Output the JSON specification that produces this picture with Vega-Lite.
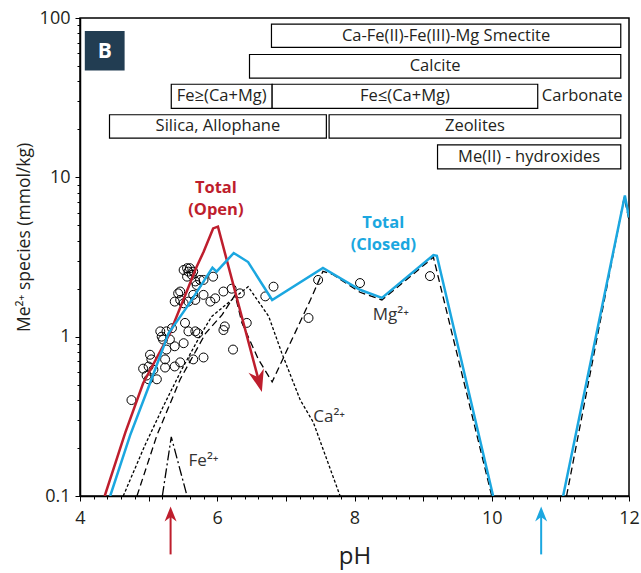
{
"$schema": "https://vega.github.io/schema/vega-lite/v6.json",
"width": 549, "height": 478,
"autosize": {"type": "none"},
"padding": {"left": 80, "top": 18, "right": 12, "bottom": 77},
"background": "white",
"config": {"view": {"stroke": "black", "strokeWidth": 1.5}, "font": "Open Sans", "text": {"font": "Open Sans"}},
"datasets": {
"boxes": [
{"t": "Ca-Fe(II)-Fe(III)-Mg Smectite", "pH": 6.79, "pH2": 11.88, "c": 65.4, "c2": 91.6},
{"t": "Calcite", "pH": 6.47, "pH2": 11.88, "c": 42.0, "c2": 59.0},
{"t": "Fe≥(Ca+Mg)", "pH": 5.33, "pH2": 6.80, "c": 27.1, "c2": 38.4},
{"t": "Fe≤(Ca+Mg)", "pH": 6.80, "pH2": 10.67, "c": 27.1, "c2": 38.4},
{"t": "Silica, Allophane", "pH": 4.43, "pH2": 7.59, "c": 17.6, "c2": 24.7},
{"t": "Zeolites", "pH": 7.63, "pH2": 11.88, "c": 17.6, "c2": 24.7},
{"t": "Me(II) - hydroxides", "pH": 9.21, "pH2": 11.88, "c": 11.3, "c2": 16.0}
],
"species": [
{"s": "Ca", "g": "Ca1", "pH": 4.63, "c": 0.1},
{"s": "Ca", "g": "Ca1", "pH": 4.95, "c": 0.21},
{"s": "Ca", "g": "Ca1", "pH": 5.24, "c": 0.385},
{"s": "Ca", "g": "Ca1", "pH": 5.48, "c": 0.62},
{"s": "Ca", "g": "Ca1", "pH": 5.77, "c": 1.05},
{"s": "Ca", "g": "Ca1", "pH": 5.92, "c": 1.34},
{"s": "Ca", "g": "Ca1", "pH": 6.21, "c": 1.70},
{"s": "Ca", "g": "Ca1", "pH": 6.45, "c": 2.06},
{"s": "Ca", "g": "Ca1", "pH": 6.75, "c": 1.34},
{"s": "Ca", "g": "Ca1", "pH": 6.94, "c": 0.79},
{"s": "Ca", "g": "Ca1", "pH": 7.21, "c": 0.40},
{"s": "Ca", "g": "Ca1", "pH": 7.40, "c": 0.29},
{"s": "Ca", "g": "Ca1", "pH": 7.79, "c": 0.1},
{"s": "Mg", "g": "Mg1", "pH": 4.83, "c": 0.1},
{"s": "Mg", "g": "Mg1", "pH": 5.12, "c": 0.24},
{"s": "Mg", "g": "Mg1", "pH": 5.46, "c": 0.54},
{"s": "Mg", "g": "Mg1", "pH": 5.83, "c": 1.05},
{"s": "Mg", "g": "Mg1", "pH": 6.07, "c": 1.37},
{"s": "Mg", "g": "Mg1", "pH": 6.26, "c": 1.83},
{"s": "Mg", "g": "Mg1", "pH": 6.36, "c": 1.22},
{"s": "Mg", "g": "Mg1", "pH": 6.60, "c": 0.72},
{"s": "Mg", "g": "Mg1", "pH": 6.80, "c": 0.52},
{"s": "Mg", "g": "Mg1", "pH": 7.02, "c": 0.83},
{"s": "Mg", "g": "Mg1", "pH": 7.36, "c": 1.71},
{"s": "Mg", "g": "Mg1", "pH": 7.54, "c": 2.57},
{"s": "Mg", "g": "Mg1", "pH": 7.69, "c": 2.45},
{"s": "Mg", "g": "Mg1", "pH": 8.08, "c": 1.90},
{"s": "Mg", "g": "Mg1", "pH": 8.40, "c": 1.70},
{"s": "Mg", "g": "Mg1", "pH": 9.15, "c": 3.15},
{"s": "Mg", "g": "Mg1", "pH": 10.0, "c": 0.1},
{"s": "Mg", "g": "Mg2", "pH": 11.09, "c": 0.1},
{"s": "Mg", "g": "Mg2", "pH": 11.93, "c": 7.5},
{"s": "Mg", "g": "Mg2", "pH": 12.0, "c": 5.4},
{"s": "Fe", "g": "Fe1", "pH": 5.20, "c": 0.1},
{"s": "Fe", "g": "Fe1", "pH": 5.33, "c": 0.235},
{"s": "Fe", "g": "Fe1", "pH": 5.56, "c": 0.1}
],
"totals": [
{"s": "Open", "g": "O1", "pH": 4.36, "c": 0.1},
{"s": "Open", "g": "O1", "pH": 4.66, "c": 0.25},
{"s": "Open", "g": "O1", "pH": 4.92, "c": 0.51},
{"s": "Open", "g": "O1", "pH": 5.31, "c": 1.05},
{"s": "Open", "g": "O1", "pH": 5.70, "c": 2.75},
{"s": "Open", "g": "O1", "pH": 5.80, "c": 3.4},
{"s": "Open", "g": "O1", "pH": 5.94, "c": 4.78},
{"s": "Open", "g": "O1", "pH": 6.01, "c": 4.9},
{"s": "Open", "g": "O1", "pH": 6.62, "c": 0.5},
{"s": "Closed", "g": "C1", "pH": 4.44, "c": 0.1},
{"s": "Closed", "g": "C1", "pH": 4.73, "c": 0.24},
{"s": "Closed", "g": "C1", "pH": 5.02, "c": 0.51},
{"s": "Closed", "g": "C1", "pH": 5.29, "c": 1.05},
{"s": "Closed", "g": "C1", "pH": 5.60, "c": 1.63},
{"s": "Closed", "g": "C1", "pH": 5.93, "c": 2.71},
{"s": "Closed", "g": "C1", "pH": 5.99, "c": 2.56},
{"s": "Closed", "g": "C1", "pH": 6.24, "c": 3.35},
{"s": "Closed", "g": "C1", "pH": 6.45, "c": 2.94},
{"s": "Closed", "g": "C1", "pH": 6.80, "c": 1.70},
{"s": "Closed", "g": "C1", "pH": 7.54, "c": 2.70},
{"s": "Closed", "g": "C1", "pH": 8.08, "c": 1.97},
{"s": "Closed", "g": "C1", "pH": 8.40, "c": 1.75},
{"s": "Closed", "g": "C1", "pH": 9.15, "c": 3.25},
{"s": "Closed", "g": "C1", "pH": 9.20, "c": 3.22},
{"s": "Closed", "g": "C1", "pH": 10.02, "c": 0.1},
{"s": "Closed", "g": "C2", "pH": 11.04, "c": 0.1},
{"s": "Closed", "g": "C2", "pH": 11.94, "c": 7.7},
{"s": "Closed", "g": "C2", "pH": 12.0, "c": 5.6}
],
"samples": [
{"pH": 4.75, "c": 0.40}, {"pH": 4.92, "c": 0.63}, {"pH": 5.0, "c": 0.65}, {"pH": 5.04, "c": 0.72},
{"pH": 5.02, "c": 0.77}, {"pH": 5.0, "c": 0.54}, {"pH": 4.97, "c": 0.57}, {"pH": 5.12, "c": 0.54},
{"pH": 5.07, "c": 0.62}, {"pH": 5.24, "c": 0.64}, {"pH": 5.24, "c": 0.72}, {"pH": 5.38, "c": 0.65},
{"pH": 5.46, "c": 0.69}, {"pH": 5.38, "c": 0.87}, {"pH": 5.26, "c": 0.83}, {"pH": 5.51, "c": 0.91},
{"pH": 5.65, "c": 0.72}, {"pH": 5.80, "c": 0.74}, {"pH": 5.19, "c": 1.0}, {"pH": 5.17, "c": 1.08},
{"pH": 5.26, "c": 1.08}, {"pH": 5.34, "c": 1.13}, {"pH": 5.21, "c": 0.96}, {"pH": 5.31, "c": 0.96},
{"pH": 5.53, "c": 1.22}, {"pH": 5.58, "c": 1.08}, {"pH": 5.72, "c": 1.05}, {"pH": 5.68, "c": 1.08},
{"pH": 5.38, "c": 1.66}, {"pH": 5.46, "c": 1.70}, {"pH": 5.43, "c": 1.87}, {"pH": 5.51, "c": 1.62},
{"pH": 5.58, "c": 1.66}, {"pH": 5.68, "c": 1.70}, {"pH": 5.65, "c": 1.83}, {"pH": 5.90, "c": 1.66},
{"pH": 5.97, "c": 1.74}, {"pH": 6.09, "c": 1.92}, {"pH": 6.21, "c": 2.0}, {"pH": 6.33, "c": 1.87},
{"pH": 6.09, "c": 1.10}, {"pH": 6.11, "c": 1.16}, {"pH": 6.23, "c": 0.83}, {"pH": 6.43, "c": 1.22},
{"pH": 5.56, "c": 2.38}, {"pH": 5.63, "c": 2.44}, {"pH": 5.68, "c": 2.22}, {"pH": 5.80, "c": 2.27},
{"pH": 5.94, "c": 2.38}, {"pH": 5.58, "c": 2.56}, {"pH": 5.56, "c": 2.69}, {"pH": 5.60, "c": 2.69},
{"pH": 5.51, "c": 2.62}, {"pH": 5.65, "c": 2.56}, {"pH": 5.75, "c": 2.27}, {"pH": 5.70, "c": 2.11},
{"pH": 5.80, "c": 1.83}, {"pH": 5.46, "c": 1.92}, {"pH": 6.70, "c": 1.79}, {"pH": 6.82, "c": 2.06},
{"pH": 7.47, "c": 2.27}, {"pH": 7.33, "c": 1.31}, {"pH": 8.08, "c": 2.17}, {"pH": 9.10, "c": 2.40}
]
},
"encoding": {
"x": {"field": "pH", "type": "quantitative",
"scale": {"domain": [4, 12], "nice": false, "zero": false},
"axis": {"title": "pH", "grid": false, "titleFontSize": 24, "titleFontWeight": "normal", "titleColor": "#231f20", "titlePadding": 17,
"values": [4,4.2,4.4,4.6,4.8,5,5.2,5.4,5.6,5.8,6,6.2,6.4,6.6,6.8,7,7.2,7.4,7.6,7.8,8,8.2,8.4,8.6,8.8,9,9.2,9.4,9.6,9.8,10,10.2,10.4,10.6,10.8,11,11.2,11.4,11.6,11.8,12],
"format": "~g",
"labelExpr": "datum.value % 2 == 0 ? datum.label : ''",
"labelFontSize": 18, "labelColor": "#231f20", "labelOverlap": false, "labelPadding": 8, "labelFlush": false,
"tickSize": {"condition": {"test": "datum.value % 1 == 0", "value": 5}, "value": 3},
"domainColor": "black", "domainWidth": 1.5, "tickColor": "black", "tickWidth": 1}},
"y": {"field": "c", "type": "quantitative",
"scale": {"type": "log", "domain": [0.1, 100], "nice": false},
"axis": {"title": "Me²⁺ species (mmol/kg)", "grid": false, "titleFontSize": 17.5, "titleFontWeight": "normal", "titleColor": "#231f20",
"titleX": -56, "titleY": 219, "titleAngle": 270, "titleAlign": "center", "titleBaseline": "middle",
"values": [0.1,0.2,0.3,0.4,0.5,0.6,0.7,0.8,0.9,1,2,3,4,5,6,7,8,9,10,20,30,40,50,60,70,80,90,100],
"format": "~g",
"labelExpr": "(datum.value == 0.1 || datum.value == 1 || datum.value == 10 || datum.value == 100) ? datum.label : ''",
"labelFontSize": 18, "labelColor": "#231f20", "labelOverlap": false, "labelPadding": 5, "labelFlush": false,
"tickSize": {"condition": {"test": "datum.value == 0.1 || datum.value == 1 || datum.value == 10 || datum.value == 100", "value": 5}, "value": 3},
"domainColor": "black", "domainWidth": 1.5, "tickColor": "black", "tickWidth": 1}}
},
"layer": [
{"data": {"name": "boxes"},
"mark": {"type": "rect", "fill": "white", "stroke": "black", "strokeWidth": 1.2},
"encoding": {"x2": {"field": "pH2"}, "y2": {"field": "c2"}}},
{"data": {"name": "boxes"},
"transform": [{"calculate": "(datum.pH + datum.pH2) / 2", "as": "pH"}, {"calculate": "sqrt(datum.c * datum.c2)", "as": "c"}],
"mark": {"type": "text", "fontSize": 16.5, "color": "#231f20", "align": "center", "baseline": "middle"},
"encoding": {"text": {"field": "t"}}},
{"data": {"values": [{"pH": 10.73, "c": 32.4, "t": "Carbonate"}]},
"mark": {"type": "text", "fontSize": 16.5, "color": "#231f20", "align": "left", "baseline": "middle"},
"encoding": {"text": {"field": "t"}}},
{"data": {"values": [{"pH": 4.07, "pH2": 4.65, "c": 46.8, "c2": 82.9}]},
"mark": {"type": "rect", "fill": "#223d52"},
"encoding": {"x2": {"field": "pH2"}, "y2": {"field": "c2"}}},
{"data": {"values": [{"pH": 4.36, "c": 61.5, "t": "B"}]},
"mark": {"type": "text", "fontSize": 21, "fontWeight": "bold", "color": "white", "align": "center", "baseline": "middle"},
"encoding": {"text": {"field": "t"}}},
{"data": {"name": "samples"},
"mark": {"type": "point", "shape": "circle", "filled": false, "stroke": "black", "strokeWidth": 1, "size": 80, "opacity": 1}},
{"data": {"name": "species"},
"mark": {"type": "line", "color": "black", "strokeWidth": 1.3, "clip": true},
"encoding": {"detail": {"field": "g"},
"strokeDash": {"field": "s", "type": "nominal", "legend": null,
"scale": {"domain": ["Ca", "Mg", "Fe"], "range": [[3, 2], [7, 4], [10, 3, 2, 3]]}}}},
{"data": {"name": "totals"},
"mark": {"type": "line", "strokeWidth": 2.5, "clip": true},
"encoding": {"detail": {"field": "g"},
"color": {"field": "s", "type": "nominal", "legend": null,
"scale": {"domain": ["Open", "Closed"], "range": ["#be1e2d", "#1ba7e0"]}}}},
{"data": {"values": [{"pH": 6.65, "c": 0.45}]},
"mark": {"type": "point", "shape": "M0,0 L-0.36,-1 L0,-0.7 L0.36,-1 Z", "filled": true, "color": "#be1e2d", "size": 1936, "angle": 345, "opacity": 1}},
{"data": {"values": [{"pH": 5.98, "c": 8.6, "t": "Total"}, {"pH": 5.98, "c": 6.22, "t": "(Open)"}]},
"mark": {"type": "text", "fontSize": 16.5, "fontWeight": "bold", "color": "#be1e2d", "align": "center", "baseline": "middle"},
"encoding": {"text": {"field": "t"}}},
{"data": {"values": [{"pH": 8.42, "c": 5.19, "t": "Total"}, {"pH": 8.42, "c": 3.75, "t": "(Closed)"}]},
"mark": {"type": "text", "fontSize": 16.5, "fontWeight": "bold", "color": "#1ba7e0", "align": "center", "baseline": "middle"},
"encoding": {"text": {"field": "t"}}},
{"data": {"values": [{"pH": 8.53, "c": 1.36, "t": "Mg²⁺"}, {"pH": 7.63, "c": 0.313, "t": "Ca²⁺"}, {"pH": 5.80, "c": 0.165, "t": "Fe²⁺"}]},
"mark": {"type": "text", "fontSize": 17, "color": "#333333", "align": "center", "baseline": "middle"},
"encoding": {"text": {"field": "t"}}},
{"data": {"values": [{"s": "Open", "pH": 5.32, "c": 0.043, "c2": 0.079}, {"s": "Closed", "pH": 10.72, "c": 0.043, "c2": 0.079}]},
"mark": {"type": "rule", "strokeWidth": 2},
"encoding": {"y2": {"field": "c2"},
"color": {"field": "s", "type": "nominal", "legend": null,
"scale": {"domain": ["Open", "Closed"], "range": ["#be1e2d", "#1ba7e0"]}}}},
{"data": {"values": [{"s": "Open", "pH": 5.32, "c": 0.0859}, {"s": "Closed", "pH": 10.72, "c": 0.0859}]},
"mark": {"type": "point", "shape": "M0,0 L-0.4,1 L0,0.7 L0.4,1 Z", "filled": true, "size": 900, "opacity": 1},
"encoding": {"color": {"field": "s", "type": "nominal", "legend": null,
"scale": {"domain": ["Open", "Closed"], "range": ["#be1e2d", "#1ba7e0"]}}}}
]
}
